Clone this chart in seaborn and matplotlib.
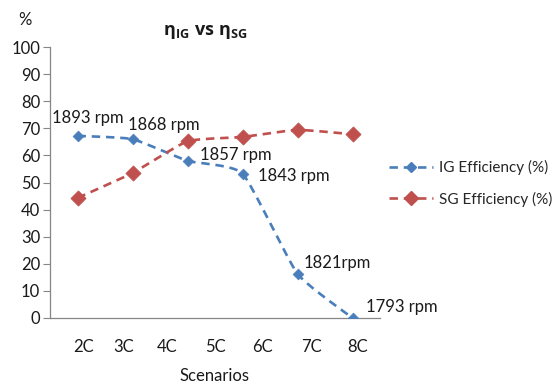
import numpy as np
import pandas as pd
import matplotlib
matplotlib.use("Agg")
import matplotlib.pyplot as plt
import seaborn as sns
from matplotlib.lines import Line2D

# ---- data ----
point_index = [1, 2, 3, 4, 5, 6]
ig_efficiency = [67.2, 66.0, 58.0, 53.3, 16.3, 0.0]
sg_efficiency = [44.3, 53.5, 65.2, 66.8, 69.4, 67.8]
ig_rpm_labels = ["1893 rpm", "1868 rpm", "1857 rpm", "1843 rpm", "1821rpm", "1793 rpm"]
scenario_labels = ["2C", "3C", "4C", "5C", "6C", "7C", "8C"]
yticks = [0, 10, 20, 30, 40, 50, 60, 70, 80, 90, 100]

# ---- style ----
scenario_label_pos = [1.1, 1.83, 2.63, 3.5, 4.37, 5.26, 6.1]
label_offsets = [(-25, 18), (-5, 14), (12, 6), (15, -2), (6, 11), (14, 11)]
BLUE = "#4A7EBB"
RED = "#C0504D"
FONT = "Lato"
TXT = "#1a1a1a"

sns.set_theme(style="white")
plt.rcParams["font.family"] = [FONT, "DejaVu Sans"]
plt.rcParams["mathtext.fontset"] = "custom"
plt.rcParams["mathtext.rm"] = "Open Sans"
plt.rcParams["mathtext.bf"] = "Open Sans:bold"
plt.rcParams["mathtext.it"] = "Open Sans:italic"

df = pd.DataFrame({"idx": point_index, "IG": ig_efficiency, "SG": sg_efficiency})

W, H = 555, 385
fig = plt.figure(figsize=(W / 100, H / 100), dpi=100)
ax = fig.add_axes([50 / W, 1 - 318 / H, 330 / W, (318 - 47) / H])


def smooth(x, y, k=0.08, n=30):
    x = np.asarray(x, float)
    y = np.asarray(y, float)
    P = np.column_stack([x, y])
    Pext = np.vstack([P[0], P, P[-1]])
    out = []
    for i in range(len(P) - 1):
        p0, p1, p2, p3 = Pext[i], Pext[i + 1], Pext[i + 2], Pext[i + 3]
        b1 = p1 + (p2 - p0) * k
        b2 = p2 - (p3 - p1) * k
        t = np.linspace(0, 1, n)[:, None]
        seg = ((1 - t) ** 3) * p1 + 3 * ((1 - t) ** 2) * t * b1 + 3 * (1 - t) * t ** 2 * b2 + t ** 3 * p2
        out.append(seg if i == 0 else seg[1:])
    s = np.vstack(out)
    return s[:, 0], s[:, 1]


dash = (3.2, 2.2)
for col, color in [("IG", BLUE), ("SG", RED)]:
    sx, sy = smooth(df["idx"], df[col])
    ax.plot(sx, sy, color=color, lw=1.9, dashes=dash, solid_capstyle="butt", zorder=2)

sns.scatterplot(data=df, x="idx", y="IG", marker="D", s=30, color=BLUE, edgecolor=BLUE,
                linewidth=0.5, ax=ax, zorder=3, legend=False)
sns.scatterplot(data=df, x="idx", y="SG", marker="D", s=60, color=RED, edgecolor=RED,
                linewidth=0.5, ax=ax, zorder=3, legend=False)

for xi, yi, lab, off in zip(df["idx"], df["IG"], ig_rpm_labels, label_offsets):
    ax.annotate(lab, (xi, yi), xytext=off, textcoords="offset pixels",
                ha="left", va="center", fontsize=12, color=TXT)

ax.set_xlim(0.5, 6.5)
ax.set_ylim(0, 100)
ax.set_yticks(yticks)
ax.set_yticklabels([str(v) for v in yticks], fontsize=12, color=TXT)
ax.set_xticks(scenario_label_pos)
ax.set_xticklabels(scenario_labels, fontsize=12, color=TXT)
ax.tick_params(axis="x", length=0, pad=15)
ax.tick_params(axis="y", length=5, width=0.8, color="#868686", pad=2, left=True)
ax.set_xlabel("Scenarios", fontsize=12, color=TXT, labelpad=9.5)
ax.set_ylabel("")
for side in ["top", "right"]:
    ax.spines[side].set_visible(False)
for side in ["left", "bottom"]:
    ax.spines[side].set_color("#868686")
    ax.spines[side].set_linewidth(0.9)
ax.grid(False)

fig.text(25 / W, 1 - 20 / H, "%", ha="center", va="center", fontsize=12, color=TXT)
fig.text(205 / W, 1 - 32 / H, r"$\mathbf{\eta_{IG}\ vs\ \eta_{SG}}$", ha="center", va="center",
         fontsize=13, color=TXT)

handles = [
    Line2D([0], [0], color=BLUE, lw=1.9, dashes=dash, marker="D", markersize=5, markerfacecolor=BLUE, markeredgecolor=BLUE),
    Line2D([0], [0], color=RED, lw=1.9, dashes=dash, marker="D", markersize=7, markerfacecolor=RED, markeredgecolor=RED),
]
fig.legend(handles, ["IG Efficiency (%)", "SG Efficiency (%)"], loc="center left",
           bbox_to_anchor=(389 / W, 1 - 183.5 / H), frameon=False, fontsize=11,
           handlelength=2.9, handletextpad=0.4, labelspacing=1.05, borderpad=0, borderaxespad=0)

fig.savefig("out.png", dpi=100, facecolor="white")
